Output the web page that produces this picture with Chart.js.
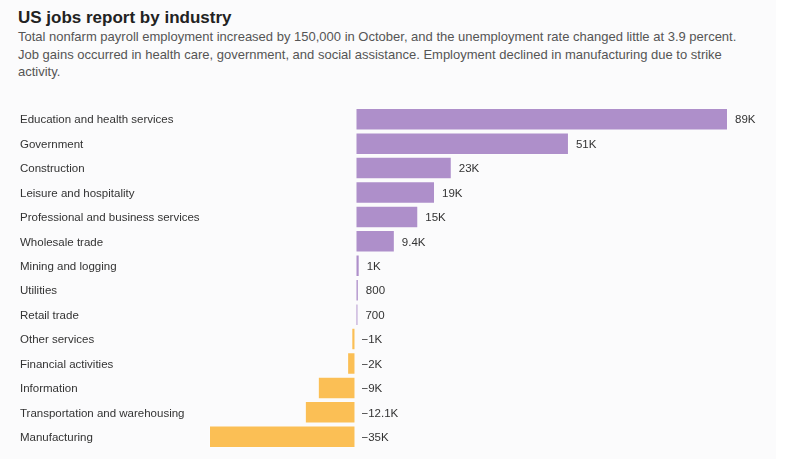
<!DOCTYPE html>
<html>
<head>
<meta charset="utf-8">
<script src="https://cdn.jsdelivr.net/npm/chart.js@4"></script>
<style>
  html, body { margin: 0; padding: 0; background: #fff; }
  #wrap { width: 776px; height: 459px; background: #fbfbfc; position: relative; font-family: "Liberation Sans", Arial, sans-serif; }
  h1 { position: absolute; left: 18px; top: 8px; margin: 0; font-size: 17px; font-weight: bold; color: #222; }
  p.sub { position: absolute; left: 18px; top: 28px; width: 740px; margin: 0; font-size: 13px; line-height: 17.5px; color: #555; }
  #box { position: absolute; left: 0; top: 95px; width: 800px; height: 364px; }
</style>
</head>
<body>
<div id="wrap">
  <h1>US jobs report by industry</h1>
  <p class="sub">Total nonfarm payroll employment increased by 150,000 in October, and the unemployment rate changed little at 3.9 percent. Job gains occurred in health care, government, and social assistance. Employment declined in manufacturing due to strike activity.</p>
  <div id="box"><canvas id="jobsChart"></canvas></div>
</div>
<script>
// change in jobs, thousands
const industries = [
  'Education and health services',
  'Government',
  'Construction',
  'Leisure and hospitality',
  'Professional and business services',
  'Wholesale trade',
  'Mining and logging',
  'Utilities',
  'Retail trade',
  'Other services',
  'Financial activities',
  'Information',
  'Transportation and warehousing',
  'Manufacturing'
];
const jobChange = [89, 51, 23, 19, 15, 9.4, 1, 0.8, 0.7, -1, -2, -9, -12.1, -35];
const valueLabels = ['89K', '51K', '23K', '19K', '15K', '9.4K', '1K', '800', '700',
  '\u22121K', '\u22122K', '\u22129K', '\u221212.1K', '\u221235K'];

const purple = '#ae8fca';
const orange = '#fbbf55';

const valueLabelPlugin = {
    id: 'valueLabels',
    afterDatasetsDraw(chart) {
        const ctx = chart.ctx;
        const meta = chart.getDatasetMeta(0);
        const zero = chart.scales.x.getPixelForValue(0);
        ctx.save();
        ctx.font = '11.5px "Liberation Sans", Arial, sans-serif';
        ctx.fillStyle = '#333';
        ctx.textBaseline = 'middle';
        ctx.textAlign = 'left';
        meta.data.forEach((bar, i) => {
            const x = jobChange[i] >= 0 ? bar.x + 7 : zero + 6;
            ctx.fillText(valueLabels[i], x, bar.y + 1);
        });
        ctx.restore();
    }
};

const ctx = document.getElementById('jobsChart');
new Chart(ctx, {
    type: 'bar',
    data: {
        labels: industries,
        datasets: [{
            data: jobChange,
            backgroundColor: jobChange.map(v => v >= 0 ? purple : orange),
            borderColor: 'rgba(255,255,255,0.35)',
            borderWidth: 1,
            borderSkipped: false,
            categoryPercentage: 0.92,
            barPercentage: 1
        }]
    },
    options: {
        indexAxis: 'y',
        responsive: true,
        maintainAspectRatio: false,
        animation: false,
        layout: { padding: { left: 20, right: 72, top: 12, bottom: 10 } },
        plugins: {
            legend: { display: false },
            tooltip: { enabled: false }
        },
        scales: {
            x: {
                min: -35,
                max: 89,
                display: false
            },
            y: {
                grid: { display: false },
                border: { display: false },
                afterFit: (scale) => { scale.width = 189; },
                ticks: {
                    crossAlign: 'far',
                    padding: 0,
                    labelOffset: 1,
                    color: '#333',
                    font: { family: '"Liberation Sans", Arial, sans-serif', size: 11.5 }
                }
            }
        }
    },
    plugins: [valueLabelPlugin]
});
</script>
</body>
</html>
